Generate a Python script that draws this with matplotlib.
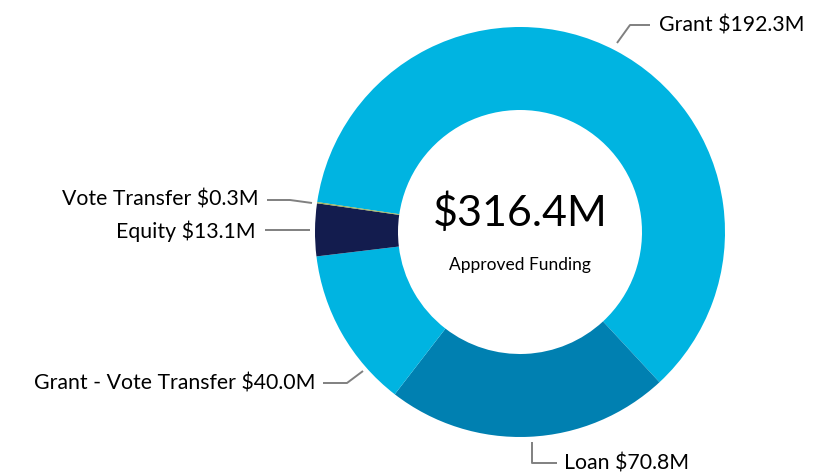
import numpy as np
import matplotlib
matplotlib.use("Agg")
import matplotlib.pyplot as plt

# funding split (in $M), clockwise from the left edge
categories = ["Grant", "Loan", "Grant - Vote Transfer", "Equity", "Vote Transfer"]
values = [192.3, 70.8, 40.0, 13.1, 0.3]
colors = ["#00B4E1", "#0080B1", "#00B4E1", "#131C4E", "#9BAF55"]
total_label = "$316.4M"
center_label = "Approved Funding"

W, H = 814, 472
plt.rcParams['font.family'] = ['Lato', 'DejaVu Sans']

fig = plt.figure(figsize=(W / 100, H / 100), dpi=100)
ax = fig.add_axes([0, 0, 1, 1])

cx, cy = 520, H - 232
R = 205
ring = 83

ax.pie(values, colors=colors, center=(cx, cy), radius=R, startangle=171.6,
       counterclock=False, wedgeprops=dict(width=ring, edgecolor='none'),
       frame=True)
ax.set_xlim(0, W)
ax.set_ylim(0, H)
ax.set_aspect('equal')
ax.axis('off')

ax.text(cx, H - 213, total_label, ha='center', va='center', fontsize=31, color='black')
ax.text(cx, H - 265, center_label, ha='center', va='center', fontsize=12.5, color='black')


def leader(xs, ys):
    ax.plot(xs, [H - y for y in ys], color='#808080', lw=1.4, solid_capstyle='butt')


lbl = dict(fontsize=15.3, color='black', va='center')
# Grant
leader([617, 630, 650], [43, 25, 25])
ax.text(659, H - 25, f"{categories[0]} ${values[0]:.1f}M", ha='left', **lbl)
# Loan
leader([532, 532, 557], [442, 463, 463])
ax.text(564, H - 463, f"{categories[1]} ${values[1]:.1f}M", ha='left', **lbl)
# Grant - Vote Transfer
leader([323, 347, 363], [383, 383, 371])
ax.text(316, H - 384, f"{categories[2]} ${values[2]:.1f}M", ha='right', **lbl)
# Equity
leader([265, 310], [230, 230])
ax.text(256, H - 231, f"{categories[3]} ${values[3]:.1f}M", ha='right', **lbl)
# Vote Transfer
leader([267, 290, 312], [200, 200, 203])
ax.text(259, H - 200, f"{categories[4]} ${values[4]:.1f}M", ha='right', **lbl)

fig.savefig("out.png", dpi=100)
